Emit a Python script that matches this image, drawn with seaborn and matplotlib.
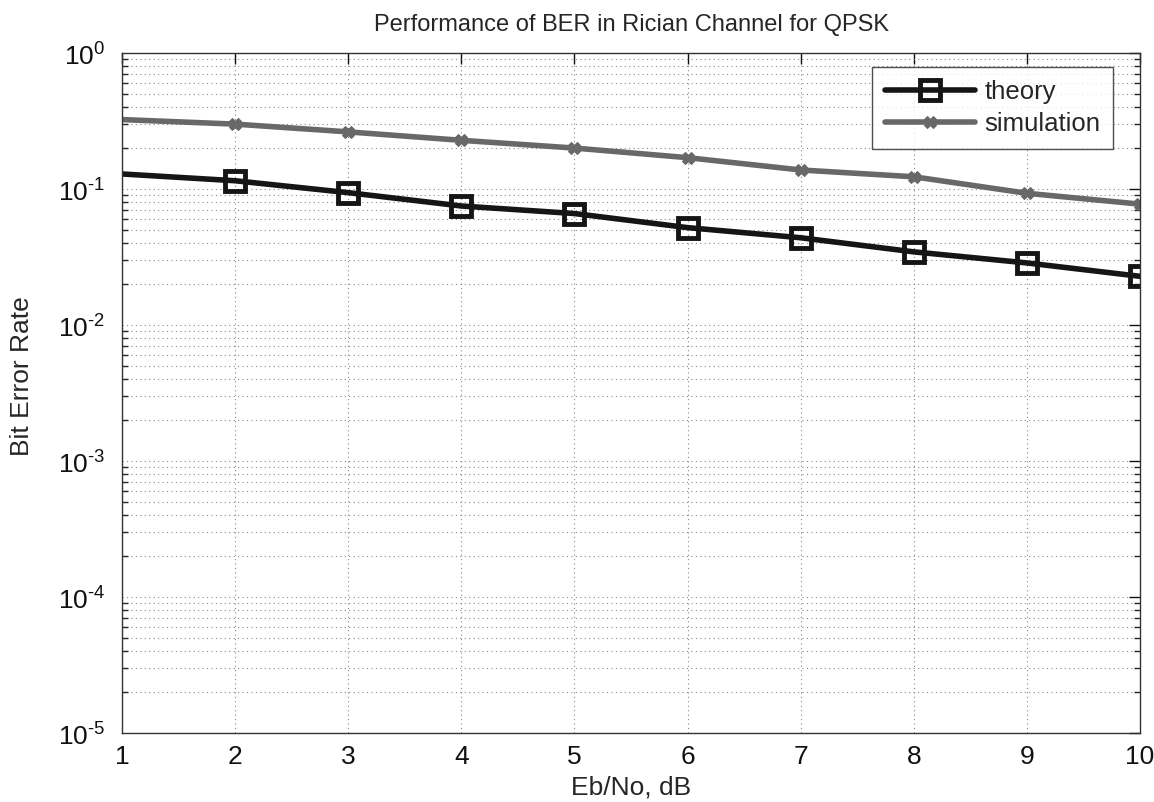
import numpy as np
import pandas as pd
import seaborn as sns
import matplotlib.pyplot as plt
from matplotlib.ticker import LogLocator, NullFormatter, FuncFormatter

# values
ebno_db = [1, 2, 3, 4, 5, 6, 7, 8, 9, 10]
ber_theory = [0.129, 0.115, 0.094, 0.075, 0.066, 0.052, 0.0438, 0.0345, 0.0286, 0.0228]
ber_simulation = [0.324, 0.300, 0.263, 0.228, 0.200, 0.170, 0.138, 0.123, 0.093, 0.0774]
x_ticks = [1, 2, 3, 4, 5, 6, 7, 8, 9, 10]

sns.set_style("white")
plt.rcParams['font.family'] = ['Liberation Sans', 'DejaVu Sans']
plt.rcParams['mathtext.fontset'] = 'custom'
plt.rcParams['mathtext.rm'] = 'Liberation Sans'

df_theory = pd.DataFrame({"ebno": ebno_db, "ber": ber_theory})
df_sim = pd.DataFrame({"ebno": ebno_db, "ber": ber_simulation})

fig = plt.figure(figsize=(11.54, 8.02), dpi=100)
ax = fig.add_axes([122 / 1154, 69 / 802, 1018 / 1154, 680 / 802])

# first point has no marker in the original
marks = list(range(1, len(ebno_db)))

sns.lineplot(data=df_theory, x="ebno", y="ber", ax=ax, color="#151515",
             linewidth=4, marker="s", markersize=15, markerfacecolor="none",
             markeredgecolor="#151515", markeredgewidth=3.5, markevery=marks,
             label="theory")
sns.lineplot(data=df_sim, x="ebno", y="ber", ax=ax, color="#686868",
             linewidth=4, marker="X", markersize=9, markeredgecolor="#686868",
             markevery=marks, label="simulation")

ax.set_yscale("log")
ax.set_xlim(1, 10)
ax.set_ylim(1e-5, 1)
ax.set_xticks(x_ticks)


def pow10(v, pos):
    e = int(round(np.log10(v)))
    if e < 0:
        return r"$10^{\text{-}%d}$" % -e
    return r"$10^{%d}$" % e


ax.yaxis.set_major_locator(LogLocator(base=10, numticks=10))
ax.yaxis.set_major_formatter(FuncFormatter(pow10))
ax.yaxis.set_minor_locator(LogLocator(base=10, subs=np.arange(2, 10), numticks=20))
ax.yaxis.set_minor_formatter(NullFormatter())

ax.grid(True, which="major", axis="both", linestyle=(0, (1, 3)), color="#888888", linewidth=0.8)
ax.grid(True, which="minor", axis="y", linestyle=(0, (1, 3)), color="#888888", linewidth=0.8)

ax.tick_params(axis="both", which="major", direction="in", length=8, width=1,
               top=True, right=True, labelsize=19, colors="#111111")
ax.tick_params(axis="x", which="major", pad=9)
ax.tick_params(axis="y", which="major", pad=12)
ax.tick_params(axis="y", which="minor", direction="in", length=4, width=1,
               left=True, right=True)
for s in ax.spines.values():
    s.set_color("#333333")
    s.set_linewidth(1)

ax.set_title("Performance of BER in Rician Channel for QPSK", fontsize=17, pad=16)
ax.set_xlabel("Eb/No, dB", fontsize=19, labelpad=4)
ax.set_ylabel("Bit Error Rate", fontsize=19)
ax.yaxis.set_label_coords(-0.086, 0.525)

leg = ax.legend(loc="upper right", bbox_to_anchor=(0.9735, 0.979), borderaxespad=0,
                fontsize=18.5, frameon=True, fancybox=False, handlelength=3.5,
                borderpad=0.5, labelspacing=0.3, handletextpad=0.35)
leg.get_frame().set_edgecolor("#222222")
leg.get_frame().set_linewidth(1)

fig.savefig("out.png", dpi=100)
